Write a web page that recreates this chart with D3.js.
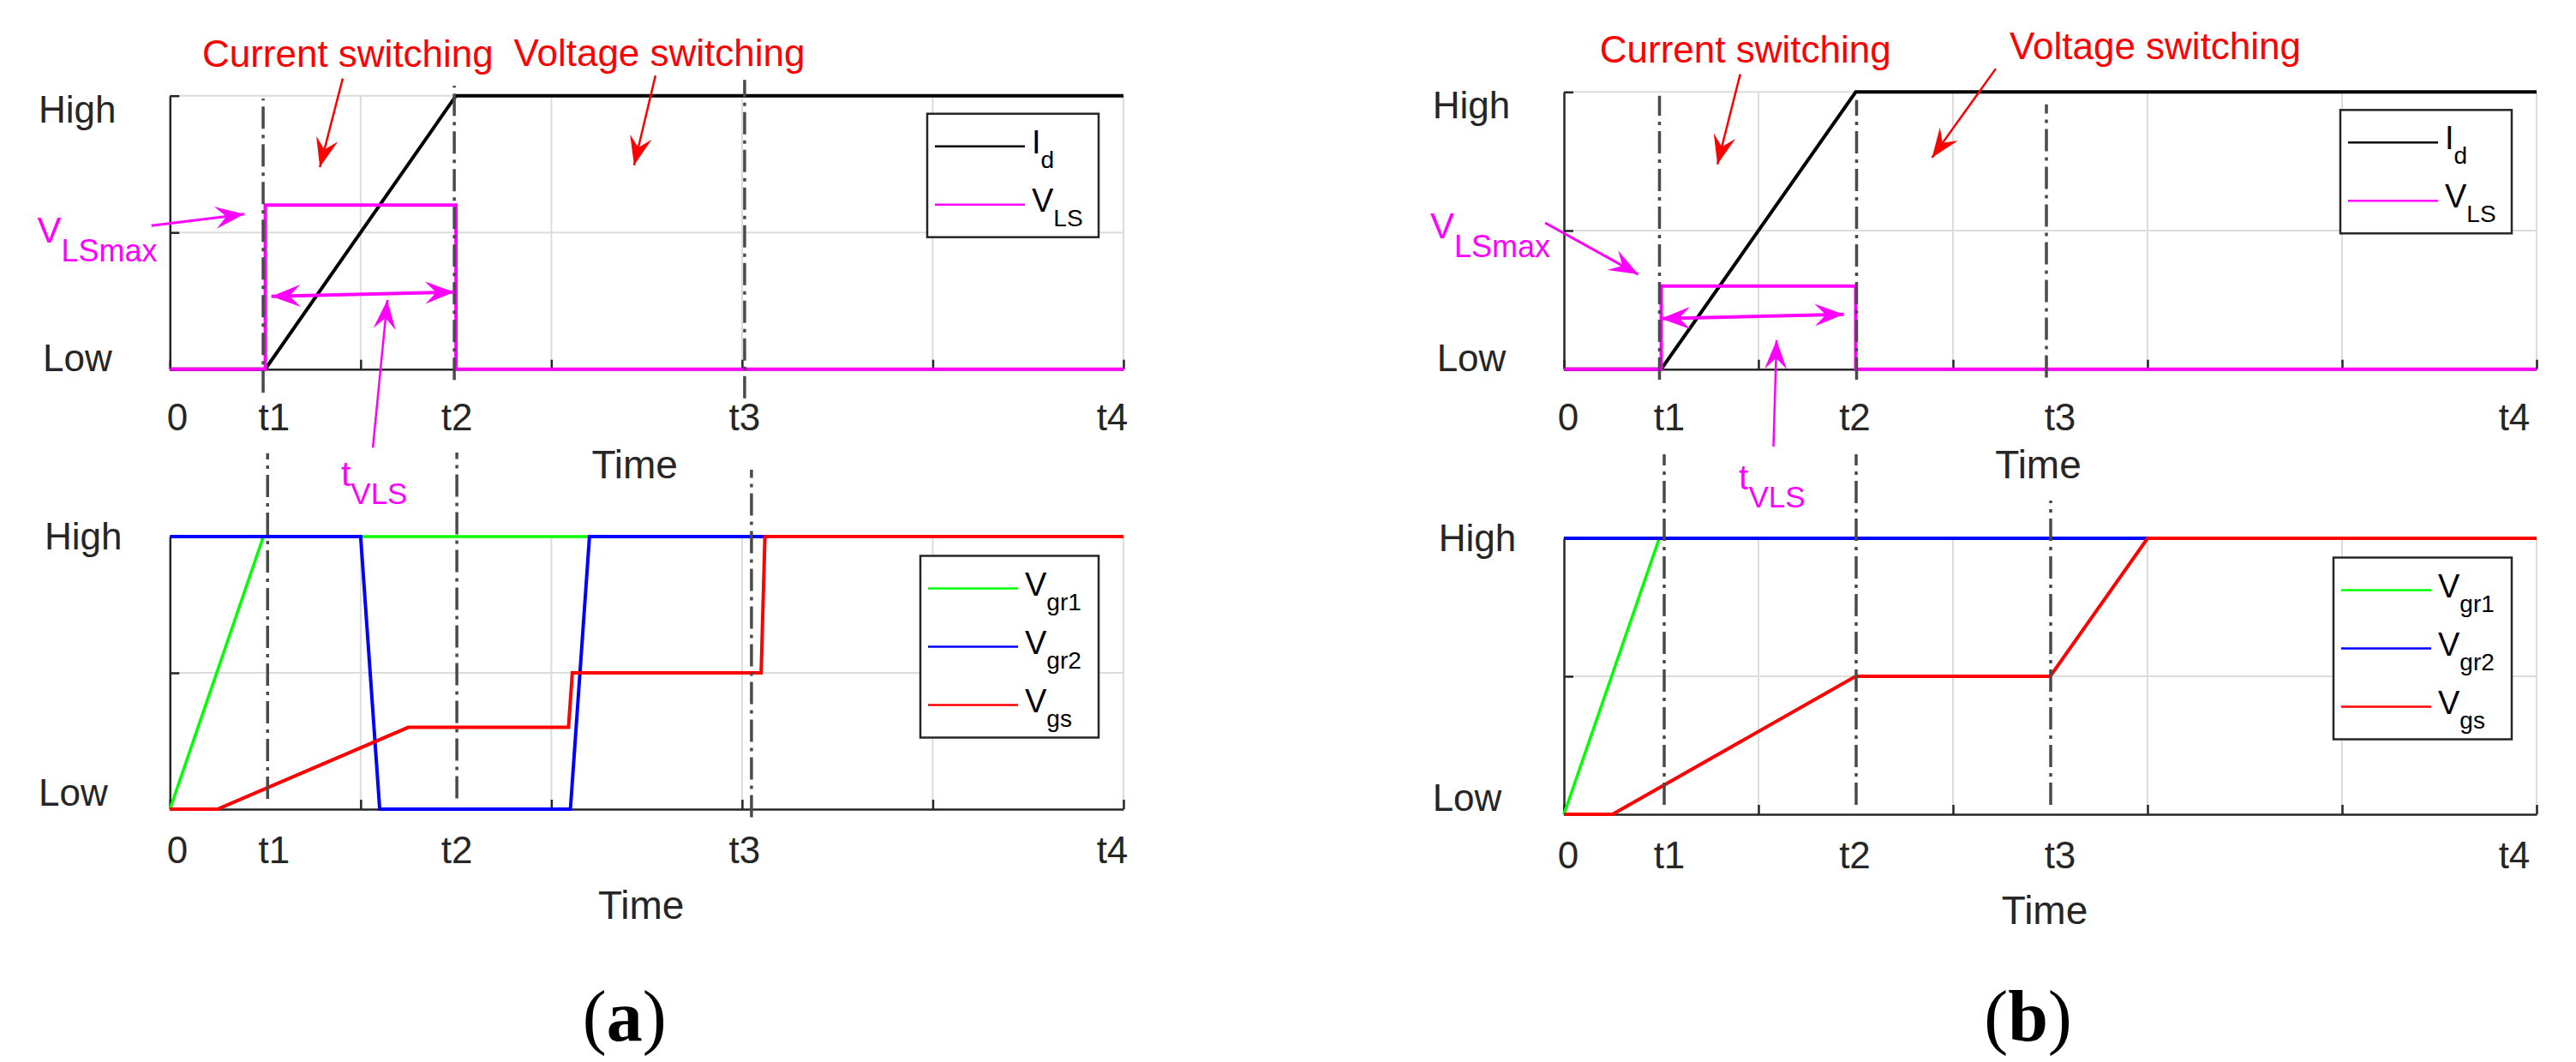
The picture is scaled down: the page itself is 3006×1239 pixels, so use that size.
<!DOCTYPE html>
<html>
<head>
<meta charset="utf-8">
<script src="https://d3js.org/d3.v7.min.js"></script>
<style>
  body { margin: 0; background: #fff; }
  svg { display: block; }
</style>
</head>
<body>
<svg id="fig"></svg>
<script>
// ---- data (time in grid units 0..5, level 0 = Low, 1 = High) ----
const xTicks = [0, 1, 2, 3, 4, 5];
const yTicks = [0, 0.5, 1];
const tickNames = ["0", "t1", "t2", "t3", "t4"];
const eventsA = [0, 0.5, 1.5, 3, 5];
const eventsB = [0, 0.5, 1.5, 2.5, 5];

// (a)
const idA   = [[0, 0], [0.5, 0], [1.5, 1], [5, 1]];
const vlsA  = [[0, 0], [0.5, 0], [0.5, 0.6], [1.5, 0.6], [1.5, 0], [5, 0]];
const vgr1A = [[0, 0], [0.49, 1], [5, 1]];
const vgr2A = [[0, 1], [1.0, 1], [1.1, 0], [2.1, 0], [2.2, 1], [5, 1]];
const vgsA  = [[0, 0], [0.25, 0], [1.25, 0.3], [2.09, 0.3], [2.11, 0.5], [3.1, 0.5], [3.12, 1], [5, 1]];

// (b)
const idB   = [[0, 0], [0.5, 0], [1.5, 1], [5, 1]];
const vlsB  = [[0, 0], [0.5, 0], [0.5, 0.3], [1.5, 0.3], [1.5, 0], [5, 0]];
const vgr1B = [[0, 0], [0.49, 1], [5, 1]];
const vgr2B = [[0, 1], [5, 1]];
const vgsB  = [[0, 0], [0.25, 0], [1.5, 0.5], [2.5, 0.5], [3, 1], [5, 1]];

const legendTop = [["I", "d"], ["V", "LS"]];
const legendBot = [["V", "gr1"], ["V", "gr2"], ["V", "gs"]];

// ---- layout ----
const W = 3006, H = 1239;
const FONT = "'Liberation Sans', Arial, sans-serif";
const AXC = "#262626";
const MARK = "#4a4a4a";
const C = { id: "#000000", vls: "#ff00ff", g: "#00ff00", b: "#0000ff", r: "#ff0000" };

const panels = [
  {
    tag: "a", x0: 198.3, x1: 1311, top: [430.7, 111.7], bot: [944, 626], events: eventsA,
    tickDx: [8.7, 10.4, 1, 3, -13],
    series: { id: idA, vls: vlsA, g: vgr1A, b: vgr2A, r: vgsA },
    marksTop: [{ y0: -0.086, y1: 0.99, dx: -2.5 }, { y0: -0.039, y1: 1.037, dx: -2 }, { y0: -0.107, y1: 1.058, dx: 3 }],
    marksBot: [{ y0: 0.038, y1: 1.306, dx: 2.7 }, { y0: 0.039, y1: 1.308, dx: 1 }, { y0: -0.03, y1: 1.245, dx: 11 }],
    cur: { at: [0.169, 1.105], arrow: [0.906, 1.063, 0.786, 0.739] },
    volt: { at: [1.803, 1.110], arrow: [2.546, 1.074, 2.434, 0.746] },
    vmax: { at: [-0.696, 0.463], arrow: [-0.097, 0.525, 0.390, 0.567] },
    tv: { at: [0.897, -0.427], arrow: [1.064, -0.287, 1.140, 0.253] },
    span: [0.532, 0.266, 1.491, 0.282]
  },
  {
    tag: "b", x0: 1825, x1: 2960, top: [430.7, 107.3], bot: [950, 628], events: eventsB,
    tickDx: [5, 9.5, -1, 11.5, -26],
    series: { id: idB, vls: vlsB, g: vgr1B, b: vgr2B, r: vgsB },
    marksTop: [{ y0: -0.038, y1: 0.986, dx: -2 }, { y0: -0.038, y1: 0.971, dx: 1 }, { y0: -0.03, y1: 0.955, dx: -4.5 }],
    marksBot: [{ y0: 0.034, y1: 1.304, dx: 3.5 }, { y0: 0.034, y1: 1.304, dx: 0.5 }, { y0: 0.034, y1: 1.137, dx: 0.5 }],
    cur: { at: [0.184, 1.105], arrow: [0.906, 1.064, 0.789, 0.739] },
    volt: { at: [2.291, 1.118], arrow: [2.220, 1.084, 1.892, 0.763] },
    vmax: { at: [-0.687, 0.471], arrow: [-0.097, 0.528, 0.382, 0.342] },
    tv: { at: [0.899, -0.434], arrow: [1.077, -0.279, 1.093, 0.105] },
    span: [0.499, 0.182, 1.439, 0.198]
  }
];

const svg = d3.select("#fig").attr("width", W).attr("height", H);
svg.append("rect").attr("width", W).attr("height", H).attr("fill", "#fff");

function drawAxes(g, x, y) {
  g.append("g").selectAll("line").data(xTicks.slice(1)).join("line")
    .attr("x1", d => x(d)).attr("x2", d => x(d)).attr("y1", y(0)).attr("y2", y(1))
    .attr("stroke", "#dcdcdc").attr("stroke-width", 2);
  g.append("g").selectAll("line").data(yTicks.slice(1)).join("line")
    .attr("x1", x(0)).attr("x2", x(5)).attr("y1", d => y(d)).attr("y2", d => y(d))
    .attr("stroke", "#dcdcdc").attr("stroke-width", 2);

  const ax = g.append("g").attr("transform", `translate(0,${y(0)})`)
    .call(d3.axisBottom(x).tickValues(xTicks).tickSizeInner(-11).tickSizeOuter(0).tickFormat(""));
  const ay = g.append("g").attr("transform", `translate(${x(0)},0)`)
    .call(d3.axisLeft(y).tickValues(yTicks).tickSizeInner(-11).tickSizeOuter(0).tickFormat(""));
  [ax, ay].forEach(a => {
    a.select(".domain").attr("stroke", AXC).attr("stroke-width", 2.5);
    a.selectAll(".tick line").attr("stroke", AXC).attr("stroke-width", 2.5);
    a.selectAll(".tick text").remove();
  });
}

function series(g, x, y, pts, color, w) {
  g.append("path").datum(pts)
    .attr("d", d3.line().x(d => x(d[0])).y(d => y(d[1])))
    .attr("fill", "none").attr("stroke", color).attr("stroke-width", w)
    .attr("stroke-linejoin", "miter");
}

function subText(g, px, py, main, sub, f1, f2, dy, color, anchor) {
  const t = g.append("text").attr("x", px).attr("y", py)
    .attr("font-family", FONT).attr("fill", color).attr("text-anchor", anchor || "start");
  t.append("tspan").attr("font-size", f1).text(main);
  t.append("tspan").attr("font-size", f2).attr("dy", dy).text(sub);
}

function head(g, tx, ty, fx, fy, color) {
  const L = 34, Wd = 13;
  const dx = tx - fx, dy = ty - fy, len = Math.hypot(dx, dy);
  const ux = dx / len, uy = dy / len, nx = -uy, ny = ux;
  const pts = [
    [tx, ty],
    [tx - L * ux + Wd * nx, ty - L * uy + Wd * ny],
    [tx - 0.62 * L * ux, ty - 0.62 * L * uy],
    [tx - L * ux - Wd * nx, ty - L * uy - Wd * ny]
  ];
  g.append("polygon").attr("points", pts.map(p => p.join(",")).join(" ")).attr("fill", color);
}

function arrow(g, x, y, a, color, w, both) {
  const x0 = x(a[0]), y0 = y(a[1]), x1 = x(a[2]), y1 = y(a[3]);
  g.append("line").attr("x1", x0).attr("y1", y0).attr("x2", x1).attr("y2", y1)
    .attr("stroke", color).attr("stroke-width", w);
  head(g, x1, y1, x0, y0, color);
  if (both) head(g, x0, y0, x1, y1, color);
}

function marks(g, x, y, events, spec) {
  g.append("g").selectAll("line").data(spec).join("line")
    .attr("x1", (d, i) => x(events[i + 1]) + d.dx).attr("x2", (d, i) => x(events[i + 1]) + d.dx)
    .attr("y1", d => y(d.y0)).attr("y2", d => y(d.y1))
    .attr("stroke", MARK).attr("stroke-width", 3.5).attr("stroke-dasharray", "26 7 4 7");
}

function legend(g, xr, yt, w, h, names, colors) {
  const lg = g.append("g").attr("transform", `translate(${xr - w},${yt})`);
  lg.append("rect").attr("width", w).attr("height", h)
    .attr("fill", "#fff").attr("stroke", AXC).attr("stroke-width", 2.5);
  names.forEach((n, i) => {
    const yy = 38 + i * 68;
    lg.append("line").attr("x1", 9).attr("x2", 114).attr("y1", yy).attr("y2", yy)
      .attr("stroke", colors[i]).attr("stroke-width", 2.5);
    subText(lg, 122, yy + 8, n[0], n[1], 38, 28, 17, "#000");
  });
}

function axisText(g, x, y, p, events, isTop) {
  const base = y(0) + (isTop ? 71 : 63);
  g.append("g").selectAll("text").data(tickNames).join("text")
    .attr("x", (d, i) => x(events[i]) + p.tickDx[i]).attr("y", base)
    .attr("text-anchor", "middle").attr("font-family", FONT).attr("font-size", 44)
    .attr("fill", AXC).text(d => d);
  g.append("text").attr("x", (x(0) + x(5)) / 2 + (isTop ? -14 : -6.5)).attr("y", y(0) + 127.5)
    .attr("text-anchor", "middle").attr("font-family", FONT).attr("font-size", 46)
    .attr("fill", AXC).text("Time");
  g.append("text").attr("x", x(0) + (isTop ? -108 : -101)).attr("y", y(1) + (isTop ? 31 : 14.5))
    .attr("text-anchor", "middle").attr("font-family", FONT).attr("font-size", 44)
    .attr("fill", AXC).text("High");
  g.append("text").attr("x", x(0) + (isTop ? -108 : -113)).attr("y", y(0) + (isTop ? 2.5 : -4.5))
    .attr("text-anchor", "middle").attr("font-family", FONT).attr("font-size", 44)
    .attr("fill", AXC).text("Low");
}

panels.forEach(p => {
  const g = svg.append("g");
  const x = d3.scaleLinear().domain([0, 5]).range([p.x0, p.x1]);
  const yT = d3.scaleLinear().domain([0, 1]).range(p.top);
  const yB = d3.scaleLinear().domain([0, 1]).range(p.bot);

  // top: drain current and stray-inductance voltage
  drawAxes(g, x, yT);
  series(g, x, yT, p.series.id, C.id, 4);
  series(g, x, yT, p.series.vls, C.vls, 4);
  marks(g, x, yT, p.events, p.marksTop);
  axisText(g, x, yT, p, p.events, true);
  legend(g, p.x1 - 29, yT(1) + 21, 200, 144, legendTop, [C.id, C.vls]);

  // annotations
  g.append("text").attr("x", x(p.cur.at[0])).attr("y", yT(p.cur.at[1]))
    .attr("font-family", FONT).attr("font-size", 44).attr("fill", C.r).text("Current switching");
  g.append("text").attr("x", x(p.volt.at[0])).attr("y", yT(p.volt.at[1]))
    .attr("font-family", FONT).attr("font-size", 44).attr("fill", C.r).text("Voltage switching");
  arrow(g, x, yT, p.cur.arrow, C.r, 2.5);
  arrow(g, x, yT, p.volt.arrow, C.r, 2.5);
  subText(g, x(p.vmax.at[0]), yT(p.vmax.at[1]), "V", "LSmax", 42, 36, 21.5, C.vls);
  arrow(g, x, yT, p.vmax.arrow, C.vls, 3);
  arrow(g, x, yT, p.span, C.vls, 4, true);
  arrow(g, x, yT, p.tv.arrow, C.vls, 2.5);
  subText(g, x(p.tv.at[0]), yT(p.tv.at[1]), "t", "VLS", 41, 35, 21, C.vls);

  // bottom: gate voltages
  drawAxes(g, x, yB);
  series(g, x, yB, p.series.g, C.g, 3.5);
  series(g, x, yB, p.series.b, C.b, 4);
  series(g, x, yB, p.series.r, C.r, 4);
  marks(g, x, yB, p.events, p.marksBot);
  axisText(g, x, yB, p, p.events, false);
  legend(g, p.x1 - 29, yB(1) + 22.5, 208, 212, legendBot, [C.g, C.b, C.r]);

  // caption
  const cap = g.append("text").attr("x", (p.x0 + p.x1) / 2 - 26).attr("y", 1214)
    .attr("text-anchor", "middle").attr("font-family", "'Liberation Serif', 'Times New Roman', serif")
    .attr("font-size", 84).attr("fill", "#000");
  cap.append("tspan").text("(");
  cap.append("tspan").attr("font-weight", "bold").text(p.tag);
  cap.append("tspan").text(")");
});
</script>
</body>
</html>
